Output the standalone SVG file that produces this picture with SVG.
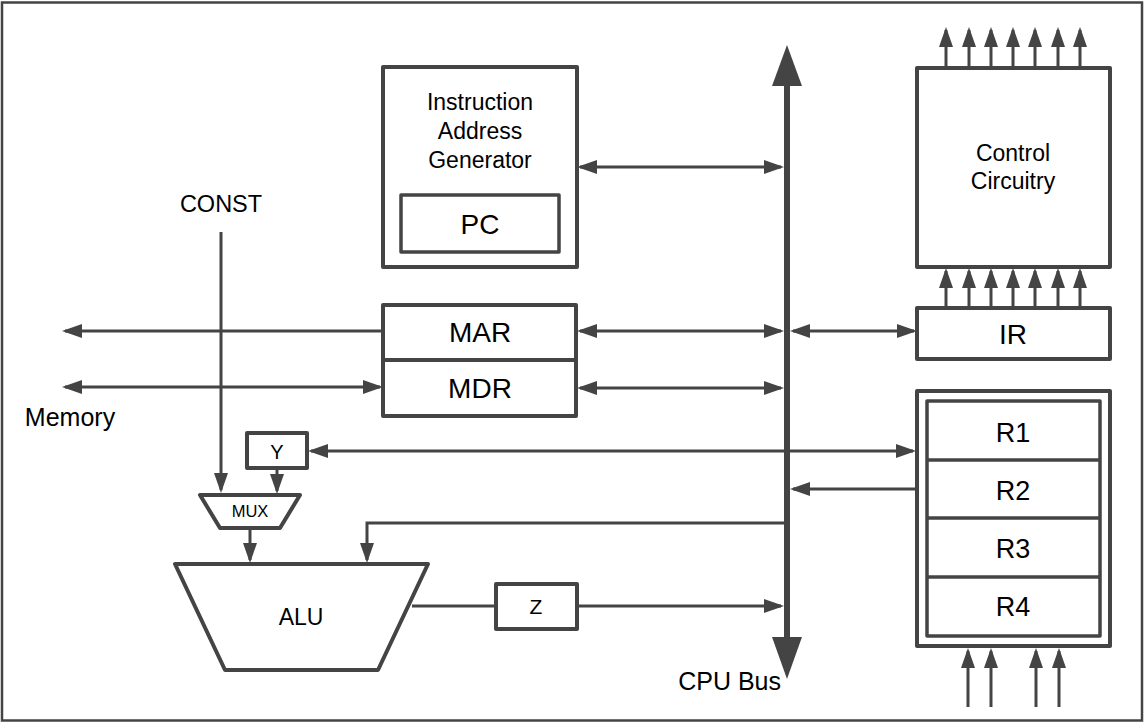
<svg xmlns="http://www.w3.org/2000/svg" width="1146" height="725" viewBox="0 0 1146 725">
<style>
.box{fill:#fff;stroke:#444;stroke-width:4;stroke-linejoin:round}
.inner{fill:#fff;stroke:#444;stroke-width:3.5;stroke-linejoin:round}
.div{stroke:#444;stroke-width:3.5}
.ln{fill:none;stroke:#444;stroke-width:3}
.t{font-family:"Liberation Sans",Arial,sans-serif;fill:#000;text-anchor:middle}
</style>
<defs>
<marker id="ah" viewBox="0 0 20 14" refX="17" refY="7" markerWidth="20" markerHeight="14" markerUnits="userSpaceOnUse" orient="auto-start-reverse">
<path d="M0,0 L20,7 L0,14 z" fill="#444"/>
</marker>
</defs>
<rect x="0" y="0" width="1146" height="725" fill="#fff"/>
<rect x="2" y="2.5" width="1140" height="718" fill="none" stroke="#444" stroke-width="2.5"/>

<g id="connectors">
<!-- CPU bus -->
<line x1="787" y1="84" x2="787" y2="639" stroke="#444" stroke-width="6"/>
<polygon points="787,45 772,86 802,86" fill="#444"/>
<polygon points="787,679 772,637 802,637" fill="#444"/>
<!-- IAG <-> bus -->
<line class="ln" x1="580" y1="167" x2="781" y2="167" marker-start="url(#ah)" marker-end="url(#ah)"/>
<!-- MAR -> memory -->
<line class="ln" x1="383" y1="331" x2="65" y2="331" marker-end="url(#ah)"/>
<!-- MDR <-> memory -->
<line class="ln" x1="65" y1="387" x2="380" y2="387" marker-start="url(#ah)" marker-end="url(#ah)"/>
<!-- MAR <-> bus -->
<line class="ln" x1="580" y1="331" x2="781" y2="331" marker-start="url(#ah)" marker-end="url(#ah)"/>
<!-- MDR <-> bus -->
<line class="ln" x1="580" y1="388" x2="781" y2="388" marker-start="url(#ah)" marker-end="url(#ah)"/>
<!-- bus <-> IR -->
<line class="ln" x1="793" y1="331" x2="914" y2="331" marker-start="url(#ah)" marker-end="url(#ah)"/>
<!-- Y <-> registers -->
<line class="ln" x1="311" y1="451" x2="913" y2="451" marker-start="url(#ah)" marker-end="url(#ah)"/>
<!-- R2 -> bus -->
<line class="ln" x1="916" y1="489" x2="793" y2="489" marker-end="url(#ah)"/>
<!-- bus -> ALU -->
<path class="ln" d="M787,523 H367 V560" marker-end="url(#ah)"/>
<!-- CONST -> MUX -->
<line class="ln" x1="221" y1="232" x2="221" y2="490" marker-end="url(#ah)"/>
<!-- Y -> MUX -->
<line class="ln" x1="277" y1="468" x2="277" y2="491" marker-end="url(#ah)"/>
<!-- MUX -> ALU -->
<line class="ln" x1="250" y1="528" x2="250" y2="560" marker-end="url(#ah)"/>
<!-- ALU -> Z -->
<line class="ln" x1="412" y1="606" x2="496" y2="606"/>
<!-- Z -> bus -->
<line class="ln" x1="577" y1="606" x2="781" y2="606" marker-end="url(#ah)"/>
<!-- control outputs -->
<g class="ln">
<line x1="946" y1="68" x2="946" y2="30" marker-end="url(#ah)"/>
<line x1="969" y1="68" x2="969" y2="30" marker-end="url(#ah)"/>
<line x1="991" y1="68" x2="991" y2="30" marker-end="url(#ah)"/>
<line x1="1013" y1="68" x2="1013" y2="30" marker-end="url(#ah)"/>
<line x1="1035" y1="68" x2="1035" y2="30" marker-end="url(#ah)"/>
<line x1="1058" y1="68" x2="1058" y2="30" marker-end="url(#ah)"/>
<line x1="1080" y1="68" x2="1080" y2="30" marker-end="url(#ah)"/>
</g>
<!-- IR -> control -->
<g class="ln">
<line x1="946" y1="307" x2="946" y2="271" marker-end="url(#ah)"/>
<line x1="969" y1="307" x2="969" y2="271" marker-end="url(#ah)"/>
<line x1="991" y1="307" x2="991" y2="271" marker-end="url(#ah)"/>
<line x1="1013" y1="307" x2="1013" y2="271" marker-end="url(#ah)"/>
<line x1="1035" y1="307" x2="1035" y2="271" marker-end="url(#ah)"/>
<line x1="1058" y1="307" x2="1058" y2="271" marker-end="url(#ah)"/>
<line x1="1080" y1="307" x2="1080" y2="271" marker-end="url(#ah)"/>
</g>
<!-- inputs to registers -->
<g class="ln">
<line x1="968" y1="707" x2="968" y2="651" marker-end="url(#ah)"/>
<line x1="991" y1="707" x2="991" y2="651" marker-end="url(#ah)"/>
<line x1="1036" y1="707" x2="1036" y2="651" marker-end="url(#ah)"/>
<line x1="1059" y1="707" x2="1059" y2="651" marker-end="url(#ah)"/>
</g>
</g>

<g id="iag">
<rect class="box" x="383" y="67" width="194" height="200"/>
<text class="t" x="480" y="110" font-size="23">Instruction</text>
<text class="t" x="480" y="139" font-size="23">Address</text>
<text class="t" x="480" y="168" font-size="23">Generator</text>
</g>
<g id="pc">
<rect class="inner" x="401" y="195" width="158" height="57"/>
<text class="t" x="480" y="234" font-size="28">PC</text>
</g>

<g id="mar">
<rect class="box" x="383" y="305" width="193" height="55"/>
<text class="t" x="480" y="342" font-size="28">MAR</text>
</g>
<g id="mdr">
<rect class="box" x="383" y="360" width="193" height="56"/>
<text class="t" x="480" y="398" font-size="28">MDR</text>
</g>

<g id="control">
<rect class="box" x="917" y="68" width="193" height="199"/>
<text class="t" x="1013" y="161" font-size="23">Control</text>
<text class="t" x="1013" y="189" font-size="23">Circuitry</text>
</g>
<g id="ir">
<rect class="box" x="917" y="308" width="193" height="51"/>
<text class="t" x="1013" y="344" font-size="28">IR</text>
</g>

<g id="registers">
<rect class="box" x="917" y="391" width="193" height="255"/>
<rect class="inner" x="927" y="401" width="173" height="235"/>
<line class="div" x1="927" y1="460" x2="1100" y2="460"/>
<line class="div" x1="927" y1="518" x2="1100" y2="518"/>
<line class="div" x1="927" y1="577" x2="1100" y2="577"/>
<text class="t" x="1013" y="442" font-size="27">R1</text>
<text class="t" x="1013" y="500" font-size="27">R2</text>
<text class="t" x="1013" y="558" font-size="27">R3</text>
<text class="t" x="1013" y="616" font-size="27">R4</text>
</g>

<g id="y">
<rect class="box" x="247" y="433" width="60" height="35"/>
<text class="t" x="277" y="459" font-size="20">Y</text>
</g>
<g id="mux">
<polygon class="box" points="200,495 300,495 280,528 220,528"/>
<text class="t" x="250" y="517" font-size="16.5">MUX</text>
</g>
<g id="alu">
<polygon class="box" points="175,564 428,564 378,670 225,670"/>
<text class="t" x="301" y="625" font-size="23">ALU</text>
</g>
<g id="z">
<rect class="box" x="496" y="584" width="81" height="45"/>
<text class="t" x="536" y="614" font-size="21">Z</text>
</g>

<g id="labels">
<text class="t" x="221" y="212" font-size="23.5">CONST</text>
<text class="t" x="70" y="426" font-size="25">Memory</text>
<text class="t" x="781" y="690" font-size="25" style="text-anchor:end">CPU Bus</text>
</g>
</svg>
